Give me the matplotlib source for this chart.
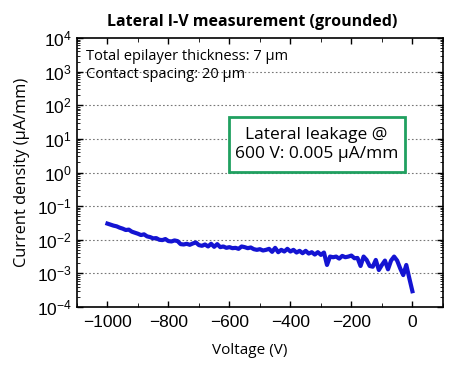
import numpy as np
import matplotlib
matplotlib.use("Agg")
import matplotlib.pyplot as plt
from matplotlib.ticker import MultipleLocator, LogLocator, FixedLocator
from matplotlib.patches import Rectangle

plt.rcParams["font.family"] = ["Liberation Sans", "DejaVu Sans"]
plt.rcParams["mathtext.fontset"] = "custom"
plt.rcParams["mathtext.rm"] = "Liberation Sans"
plt.rcParams["mathtext.default"] = "regular"

# data
voltage = list(range(-1000, 1, 10))
density = [
    3.02e-2, 2.82e-2, 2.63e-2, 2.51e-2, 2.29e-2, 2.14e-2, 1.95e-2, 2.00e-2, 1.74e-2, 1.62e-2,
    1.51e-2, 1.38e-2, 1.45e-2, 1.26e-2, 1.20e-2, 1.10e-2, 1.12e-2, 1.00e-2, 9.77e-3, 1.05e-2,
    9.12e-3, 8.91e-3, 9.55e-3, 9.12e-3, 7.41e-3, 7.24e-3, 7.59e-3, 7.08e-3, 7.76e-3, 8.32e-3,
    6.92e-3, 6.61e-3, 7.24e-3, 6.31e-3, 7.59e-3, 6.17e-3, 7.41e-3, 6.03e-3, 6.31e-3, 5.75e-3,
    6.03e-3, 5.62e-3, 5.75e-3, 5.37e-3, 6.31e-3, 6.03e-3, 5.62e-3, 5.89e-3, 5.25e-3, 5.01e-3,
    5.25e-3, 4.79e-3, 5.01e-3, 5.37e-3, 4.37e-3, 5.75e-3, 4.27e-3, 5.01e-3, 4.47e-3, 5.37e-3,
    4.47e-3, 5.01e-3, 4.17e-3, 4.68e-3, 3.98e-3, 4.68e-3, 3.89e-3, 4.27e-3, 3.63e-3, 4.27e-3,
    3.55e-3, 4.17e-3, 1.78e-3, 3.16e-3, 3.02e-3, 3.16e-3, 2.75e-3, 3.31e-3, 3.02e-3, 3.16e-3,
    3.39e-3, 2.82e-3, 2.88e-3, 1.66e-3, 3.16e-3, 2.51e-3, 1.66e-3, 1.58e-3, 2.51e-3, 1.26e-3,
    1.78e-3, 2.40e-3, 1.32e-3, 2.40e-3, 3.16e-3, 2.40e-3, 1.41e-3, 8.9e-4, 1.78e-3, 7.1e-4,
    2.95e-4,
]
x_ticks = [-1000, -800, -600, -400, -200, 0]
decades = [1e-4, 1e-3, 1e-2, 1e-1, 1e0, 1e1, 1e2, 1e3, 1e4]

fig = plt.figure(figsize=(4.58, 3.69), dpi=100)
ax = fig.add_axes([0.168, 0.168, 0.799, 0.729])

ax.plot(voltage, density, color="#1414d2", lw=3, zorder=3)

ax.set_yscale("log")
ax.set_ylim(1e-4, 1e4)
ax.set_xlim(-1100, 100)
ax.yaxis.set_major_locator(FixedLocator(decades))
ax.yaxis.set_minor_locator(LogLocator(base=10, subs=np.arange(2, 10), numticks=20))
ax.xaxis.set_major_locator(FixedLocator(x_ticks))
ax.xaxis.set_minor_locator(MultipleLocator(100))

for d in decades[1:-1]:
    ax.axhline(d, color="#777777", lw=0.8, ls=(0, (1.5, 2)), zorder=1)

ax.tick_params(which="both", direction="in", top=True, right=True)
ax.tick_params(which="major", length=4, width=1, labelsize=12.5)
ax.tick_params(axis="x", which="major", pad=6)
ax.tick_params(which="minor", length=2, width=0.6)
ax.tick_params(axis="x", which="minor", length=3)
for s in ax.spines.values():
    s.set_linewidth(1.2)

ax.set_title("Lateral I-V measurement (grounded)", fontsize=11.5, fontweight="bold",
             family=["Open Sans", "DejaVu Sans"], pad=9, x=0.478)
ax.set_xlabel("Voltage (V)", fontsize=11, family=["Open Sans", "DejaVu Sans"], labelpad=9)
ax.xaxis.set_label_coords(0.473, -0.135)
ax.set_ylabel("Current density (\u00b5A/mm)", fontsize=11.8, family=["Open Sans", "DejaVu Sans"], labelpad=5)

ax.text(0.024, 0.93, "Total epilayer thickness: 7 \u00b5m", transform=ax.transAxes,
        fontsize=10.5, family=["Open Sans", "DejaVu Sans"], va="center")
ax.text(0.024, 0.866, "Contact spacing: 20 \u00b5m", transform=ax.transAxes,
        fontsize=10.5, family=["Open Sans", "DejaVu Sans"], va="center")

ax.add_patch(Rectangle((0.415, 0.502), 0.481, 0.204, transform=ax.transAxes,
                       fc="white", ec="#20a060", lw=2, zorder=4))
ax.text(0.655, 0.604, "Lateral leakage @\n600 V: 0.005 \u00b5A/mm", transform=ax.transAxes,
        fontsize=12.5, family=["Open Sans", "DejaVu Sans"], ha="center", va="center",
        linespacing=1.2, zorder=5)

fig.savefig("out.png", dpi=100)
